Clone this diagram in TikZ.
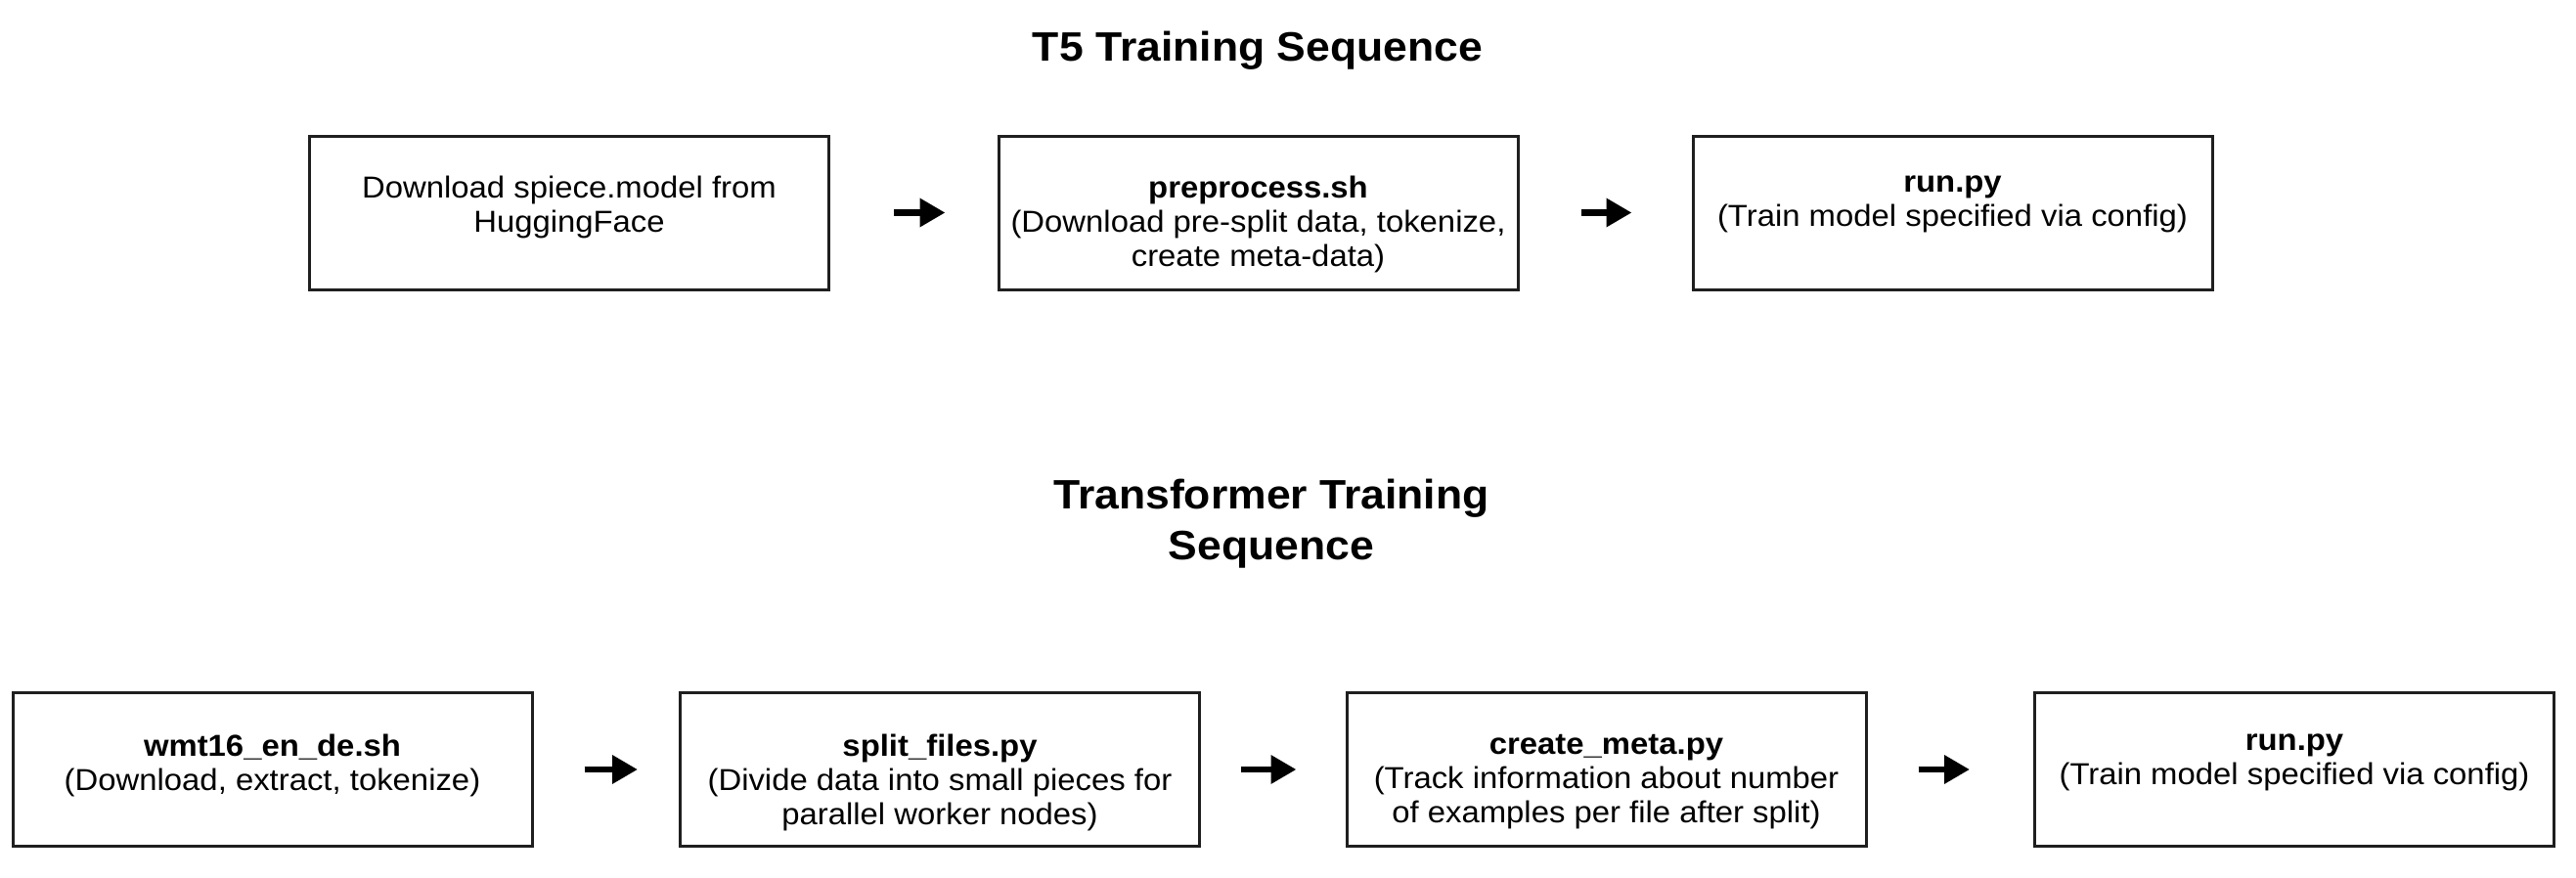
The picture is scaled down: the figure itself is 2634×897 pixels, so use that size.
\documentclass[tikz,border=0pt]{standalone}
\usepackage{fontspec}
\setmainfont{Liberation Sans}[FakeStretch=1.06]
\usetikzlibrary{arrows.meta}
\tikzset{
  stepbox/.style={draw=black!88, line width=3pt, minimum width=531pt, minimum height=157pt, inner sep=0pt, fill=white},
  boxtext/.style={anchor=north, inner sep=0pt, align=center, font=\fontsize{31}{35}\selectfont, text=black},
  titletext/.style={align=center, inner sep=0pt, font=\fontsize{42}{52}\selectfont\bfseries, text=black},
  arr/.style={line width=6.5pt, -{Triangle[length=26pt,width=28pt]}, black}
}
\begin{document}
\begin{tikzpicture}[x=1pt,y=-1pt]
\useasboundingbox[fill=white] (0,0) rectangle (2634,897);

% top row
\node[titletext, anchor=base] (title1) at (1286,62) {T5 Training Sequence};
\node[stepbox] (b1) at (582,217.5) {};
\node[stepbox] (b2) at (1286.5,217.5) {};
\node[stepbox] (b3) at (1996.5,217.5) {};
\node[boxtext] (t1) at ([yshift=-42pt]b1.north) {Download spiece.model from\\HuggingFace};
\node[boxtext] (t2) at ([yshift=-42pt]b2.north) {\textbf{preprocess.sh}\\(Download pre-split data, tokenize,\\create meta-data)};
\node[boxtext] (t3) at ([yshift=-42pt]b3.north) {\textbf{run.py}\\(Train model specified via config)};
\draw[arr, shorten <=65pt, shorten >=53pt] (b1.east) -- (b2.west);
\draw[arr, shorten <=63pt, shorten >=61pt] (b2.east) -- (b3.west);

% bottom row
\node[titletext, anchor=base] (title2) at (1300,520) {Transformer Training};
\node[titletext, anchor=base] (title2b) at (1300,572) {Sequence};
\node[stepbox] (b4) at (278.5,787) {};
\node[stepbox] (b5) at (961,787) {};
\node[stepbox] (b6) at (1642.5,787) {};
\node[stepbox] (b7) at (2346,787) {};
\node[boxtext] (t4) at ([yshift=-44pt]b4.north) {\textbf{wmt16\_en\_de.sh}\\(Download, extract, tokenize)};
\node[boxtext] (t5) at ([yshift=-44pt]b5.north) {\textbf{split\_files.py}\\(Divide data into small pieces for\\parallel worker nodes)};
\node[boxtext] (t6) at ([yshift=-44pt]b6.north) {\textbf{create\_meta.py}\\(Track information about number\\of examples per file after split)};
\node[boxtext] (t7) at ([yshift=-44pt]b7.north) {\textbf{run.py}\\(Train model specified via config)};
\draw[arr, shorten <=52pt, shorten >=42pt] (b4.east) -- (b5.west);
\draw[arr, shorten <=41pt, shorten >=50pt] (b5.east) -- (b6.west);
\draw[arr, shorten <=52pt, shorten >=65pt] (b6.east) -- (b7.west);
\end{tikzpicture}
\end{document}
